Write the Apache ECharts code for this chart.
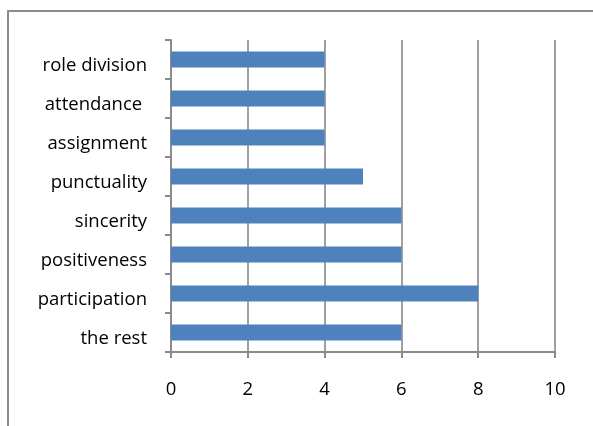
<!DOCTYPE html>
<html>
<head>
<meta charset="utf-8">
<script src="https://cdn.jsdelivr.net/npm/echarts@6/dist/echarts.min.js"></script>
<style>
  html, body { margin: 0; padding: 0; background: #fff; }
  #frame { position: absolute; left: 7px; top: 10px; width: 600px; height: 430px;
           border: 2px solid #8c8c8c; box-sizing: border-box; }
  #chart { position: absolute; left: 0; top: 0; width: 593px; height: 426px; }
</style>
</head>
<body>
<div id="frame"></div>
<div id="chart"></div>
<script>
// Categories listed bottom to top, as the value axis draws them
const categories = ['the rest', 'participation', 'positiveness', 'sincerity',
                    'punctuality', 'assignment', 'attendance ', 'role division'];
const scores = [6, 8, 6, 6, 5, 4, 4, 4];
const valueTicks = [0, 2, 4, 6, 8, 10];

const chart = echarts.init(document.getElementById('chart'), null, { renderer: 'canvas' });
const FONT = 'Open Sans';

chart.setOption({
  animation: false,
  grid: { left: 171, right: 38, top: 40, bottom: 74, containLabel: false },
  xAxis: {
    type: 'value',
    min: valueTicks[0],
    max: valueTicks[valueTicks.length - 1],
    interval: 2,
    axisLine: { show: true, lineStyle: { color: '#8a8a8a', width: 2 } },
    axisTick: { show: true, length: 6, lineStyle: { color: '#8a8a8a', width: 2 } },
    splitLine: { show: true, lineStyle: { color: '#a0a0a0', width: 2 } },
    axisLabel: { color: '#000', fontFamily: FONT, fontSize: 18.5, margin: 28 }
  },
  yAxis: {
    type: 'category',
    data: categories,
    axisLine: { show: true, lineStyle: { color: '#8a8a8a', width: 2 } },
    axisTick: { show: true, length: 6, alignWithLabel: false, lineStyle: { color: '#8a8a8a', width: 2 } },
    axisLabel: {
      margin: 24,
      // labels sit a little below the bar centre line
      formatter: (v) => '{c|' + v + '}',
      rich: {
        c: { color: '#000', fontFamily: FONT, fontSize: 18.5, padding: [12, 0, 0, 0] }
      }
    }
  },
  series: [{
    type: 'bar',
    data: scores,
    barWidth: 16,
    itemStyle: { color: '#4f81bd' }
  }]
});
</script>
</body>
</html>
